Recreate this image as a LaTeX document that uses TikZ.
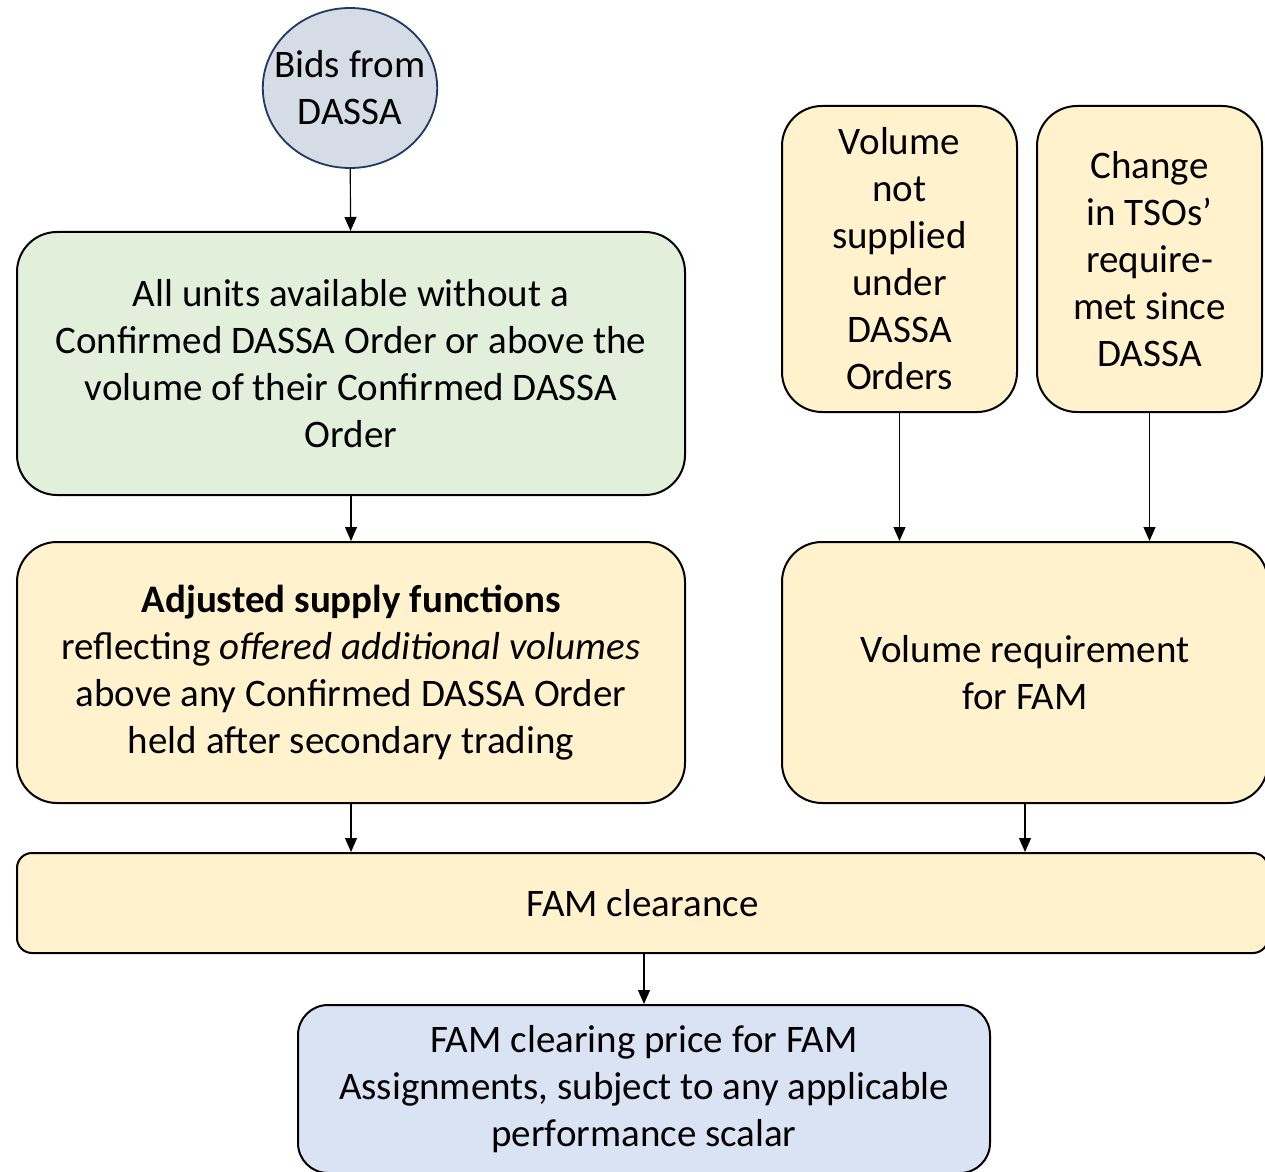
\documentclass[tikz,border=0pt]{standalone}
\usepackage{fontspec}
\setmainfont{Carlito}
\usepackage{xcolor}
\usepackage{tikz}
\usetikzlibrary{arrows.meta}
\usetikzlibrary{shapes.geometric}

\definecolor{greenfill}{HTML}{E2EFDA}
\definecolor{yellowfill}{HTML}{FFF2CC}
\definecolor{bluefill}{HTML}{DAE3F3}
\definecolor{bidsfill}{HTML}{D6DCE5}
\definecolor{bidsline}{HTML}{1F3864}

\begin{document}
\begin{tikzpicture}
    [%%%%%%%%%%%%%%%%%%%%%%%%%%%%%%
        x=0.5pt, y=-0.5pt,
        txt/.style={font=\fontsize{19.5}{23.5}\selectfont, align=center, inner sep=0pt},
        box/.style={txt, rectangle, rounded corners=20pt, draw=black, line width=1pt},
        bids/.style={txt, ellipse, draw=bidsline, line width=0.9pt, fill=bidsfill,
            inner xsep=-7pt, inner ysep=0pt, minimum width=87pt, minimum height=80pt},
        flow/.style={-{Triangle[length=7pt,width=6pt]}, line width=0.6pt}
    ]%%%%%%%%%%%%%%%%%%%%%%%%%%%%%%

\useasboundingbox (0,0) rectangle (1265,1172);

\node[bids] (bids) at (350,88) {Bids from\\DASSA};

\node[box, fill=greenfill, minimum width=334pt, minimum height=131.5pt] (units) at (351,363.5)
    {All units available without a\\Confirmed DASSA Order or above the\\volume of their Confirmed DASSA\\Order};

\node[box, fill=yellowfill, minimum width=334pt, minimum height=130.5pt] (supply) at (351,672.5)
    {\textbf{Adjusted supply functions}\\reflecting \textit{offered additional volumes}\\above any Confirmed DASSA Order\\held after secondary trading};

\node[box, fill=yellowfill, minimum width=117.5pt, minimum height=153pt] (notsup) at (899.5,259)
    {Volume\\not\\supplied\\under\\DASSA\\Orders};

\node[box, fill=yellowfill, minimum width=112.5pt, minimum height=153pt] (change) at (1149.5,259)
    {Change\\in TSOs’\\require-\\met since\\DASSA};

\node[box, fill=yellowfill, minimum width=243pt, minimum height=130.5pt] (req) at (1025,672.5)
    {Volume requirement\\for FAM};

\node[box, rounded corners=7.5pt, fill=yellowfill, minimum width=625.5pt, minimum height=50pt] (fam) at (642.5,903)
    {FAM clearance};

\node[box, rounded corners=15pt, fill=bluefill, minimum width=346pt, minimum height=84pt] (price) at (644,1089)
    {FAM clearing price for FAM\\Assignments, subject to any applicable\\performance scalar};

\draw[flow] (bids) -- (units);
\draw[flow] (units) -- (supply);
\draw[flow] (notsup.south) -- (notsup.south |- req.north);
\draw[flow] (change.south) -- (change.south |- req.north);
\draw[flow] (supply.south) -- (supply.south |- fam.north);
\draw[flow] (req.south) -- (req.south |- fam.north);
\draw[flow] (price.north |- fam.south) -- (price.north);

\end{tikzpicture}
\end{document}
